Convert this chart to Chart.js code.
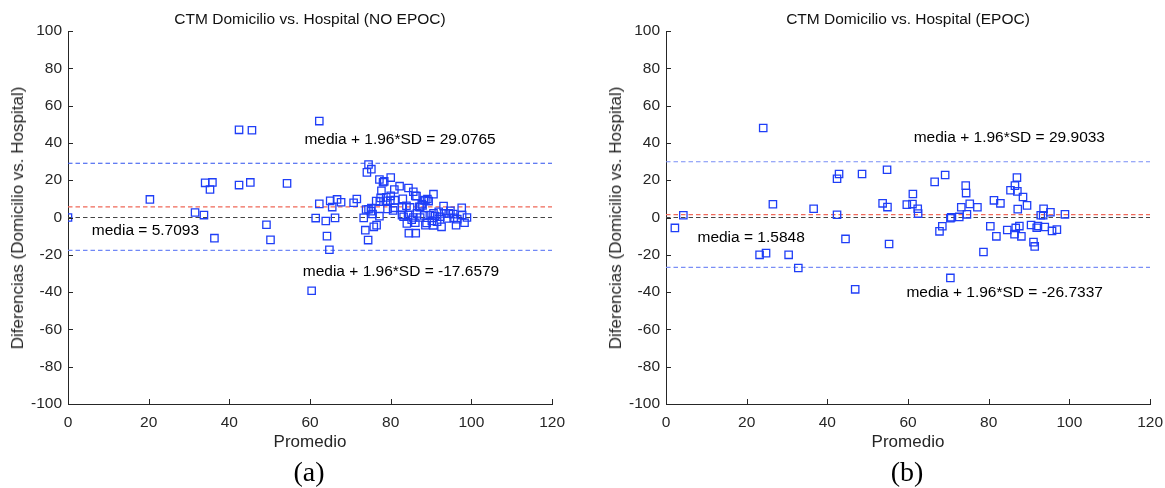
<!DOCTYPE html>
<html>
<head>
<meta charset="utf-8">
<script src="https://cdn.jsdelivr.net/npm/chart.js@4.4.1/dist/chart.umd.min.js"></script>
<style>
  body { margin: 0; background: #fff; }
  #wrap { position: relative; width: 1165px; height: 488px; background: #fff; overflow: hidden; }
  #wrap canvas { position: absolute; top: 0; }
  .lbl { position: absolute; white-space: nowrap; transform: translate(-50%, -50%); font-family: "Liberation Sans", Arial, sans-serif; color: #262626; }
  .ttl { font-size: 15.5px; color: #111; }
  .axt { font-size: 17px; }
  .ylab { transform: translate(-50%, -50%) rotate(-90deg); }
  .sub { font-family: "Liberation Serif", "Times New Roman", serif; font-size: 28px; color: #000; }
</style>
</head>
<body>
<div id="wrap">
  <canvas id="chart1" width="574" height="488" style="left:0"></canvas>
  <canvas id="chart2" width="574" height="488" style="left:598px"></canvas>

  <div class="lbl ttl" style="left:310px;top:19px">CTM Domicilio vs. Hospital (NO EPOC)</div>
  <div class="lbl axt ylab" style="left:18px;top:218px">Diferencias (Domicilio vs. Hospital)</div>
  <div class="lbl axt" style="left:310px;top:442px">Promedio</div>
  <div class="lbl sub" style="left:309px;top:472px">(a)</div>

  <div class="lbl ttl" style="left:908px;top:19px">CTM Domicilio vs. Hospital (EPOC)</div>
  <div class="lbl axt ylab" style="left:616px;top:218px">Diferencias (Domicilio vs. Hospital)</div>
  <div class="lbl axt" style="left:908px;top:442px">Promedio</div>
  <div class="lbl sub" style="left:907px;top:472px">(b)</div>
</div>

<script>
// axis ticks
const xTicks = [0, 20, 40, 60, 80, 100, 120];
const yTicks = [-100, -80, -60, -40, -20, 0, 20, 40, 60, 80, 100];

// NO EPOC: promedio / diferencia
const noEpocAvg = [
  0, 20.3, 31.5, 33.7, 34, 35.8, 35.2, 36.3, 42.4, 45.6,
  42.4, 45.2, 49.2, 50.2, 54.3, 60.4, 62.3, 62.3, 61.4, 63.9,
  64.2, 64.8, 65, 65.5, 66.7, 66.2, 67.7, 70.8, 71.6, 73.3,
  73.7, 74.4, 74.5, 75.2, 74.1, 73.9, 74.5, 75.2, 75.1, 75.5,
  75.8, 76.5, 77.2, 76.4, 77.2, 78.4, 78.1, 80, 77.7, 77.5,
  78.9, 77.3, 78.8, 80, 80.9, 82.2, 84.4, 85.6, 86.4, 90.6,
  89.1, 88.2, 87.7, 87.3, 79.9, 81, 83, 81, 82.8, 86.1,
  84.8, 87.1, 88.6, 89.4, 87.9, 83.2, 85.6, 84, 86.1, 84.5,
  86.2, 88.6, 90.6, 92.6, 89.7, 90.6, 91.9, 93.1, 93.3, 94.4,
  95.5, 96.5, 97.7, 98.9, 96.2, 98.3, 97.6, 95.6, 94, 92.3,
  91.5, 90.2, 87.3, 88.3, 86.5, 84.3, 82.8, 79.2, 80.6, 83.9,
  85.2, 88.9, 91, 94.8
];
const noEpocDiff = [
  0, 9.7, 2.7, 1.3, 18.6, 18.8, 15, -11.1, 47, 46.8,
  17.4, 18.8, -3.9, -12, 18.3, -39.3, 51.7, 7.3, -0.3, -1.9,
  -10, -17.3, 8.9, 5.6, 9.7, -0.2, 8.2, 7.9, 9.9, -0.2,
  -6.8, -12.1, 28.4, 25.9, 24.2, 4.3, 4.4, 5, 3.4, 1.9,
  -5, -4.1, 0.7, 8.8, 20.4, 19.4, 18.9, 21.4, 14.3, 10.5,
  10.8, 8.5, 9, 11.6, 15, 16.8, 15.8, 13.8, 11.5, 12.5,
  9.9, 9.1, 7.1, 5.6, 9, 9.3, 10, 5.2, 5.4, 11.6,
  5.4, 5.7, 9.3, 8.8, 6.5, 0.4, 0, -3.2, -2.8, -8.4,
  -8.4, -4.1, -4.2, -5, 1.3, 2.2, 3.1, 6.1, 2.2, 2.2,
  1.8, -0.9, 1.3, 0, -4.1, -2.8, 5.2, -0.2, -0.5, 0.4,
  -2.3, -1.8, 0, 1.1, 2.2, 1.3, 1.3, 4.6, 3.8, 6.3,
  -1.2, -2.9, 0.8, 3.6
];
const noEpocLines = [29.0765, 5.7093, 0, -17.6579];

// EPOC: promedio / diferencia
const epocAvg = [
  2.2, 4.3, 24.1, 23.2, 24.8, 26.5, 30.4, 32.8, 36.6, 42.4,
  42.9, 42.4, 44.5, 46.9, 48.6, 54.8, 53.7, 54.9, 55.3, 59.7,
  61.1, 61.2, 62.4, 62.5, 66.6, 69.2, 67.8, 68.5, 70.7, 70.5,
  70.5, 72.7, 73.2, 74.3, 74.4, 74.6, 75.3, 77.2, 78.7, 80.4,
  81.3, 82.9, 81.9, 84.6, 85.4, 86.5, 87, 87.1, 86.7, 86.4,
  87.6, 88.1, 87.2, 88.5, 89.5, 90.5, 91.1, 91.4, 91.9, 92.2,
  92.9, 93.6, 93.5, 93.9, 95.3, 95.7, 96.9, 98.9
];
const epocDiff = [
  -5.6, 1.2, 48, -20, -19.1, 7.1, -20, -27.1, 4.7, 20.8,
  23.3, 1.5, -11.5, -38.5, 23.3, 25.6, 7.6, 5.6, -14.2, 6.9,
  7.2, 12.6, 4.7, 2.1, 19.1, 22.8, -7.4, -4.7, 0.1, -0.4,
  -32.4, 0.3, 5.5, 17.1, 13.1, 1.7, 7.3, 5.5, -18.5, -4.7,
  9.2, 7.6, -10.1, -6.7, 14.6, 17.1, 21.4, 14, -5.6, -8.9,
  -4.6, -10.1, 4.5, 11, 6.5, -4, -13.2, -15.5, -5.5, -4.6,
  1.2, 4.7, 1.2, -5.1, 2.8, -7.2, -6.5, 1.7
];
const epocLines = [29.9033, 1.5848, 0, -26.7337];

const noEpocNotes = [
  'media + 1.96*SD = ' + noEpocLines[0],
  'media = ' + noEpocLines[1],
  'media + 1.96*SD = ' + noEpocLines[3]
];
const epocNotes = [
  'media + 1.96*SD = ' + epocLines[0],
  'media = ' + epocLines[1],
  'media + 1.96*SD = ' + epocLines[3]
];

const FONT = '"Liberation Sans", Arial, sans-serif';
const AXIS = '#262626';

// matlab style ticks pointing inwards + text labels inside the plot
const innerTicks = {
  id: 'innerTicks',
  afterDraw(chart) {
    const c = chart.ctx;
    const xs = chart.scales.x, ys = chart.scales.y;
    const area = chart.chartArea;
    c.save();
    c.strokeStyle = AXIS;
    c.lineWidth = 1;
    c.beginPath();
    xTicks.forEach(v => {
      const px = Math.round(xs.getPixelForValue(v)) + 0.5;
      c.moveTo(px, area.bottom);
      c.lineTo(px, area.bottom - 5);
    });
    yTicks.forEach(v => {
      const py = Math.round(ys.getPixelForValue(v)) + 0.5;
      c.moveTo(area.left, py);
      c.lineTo(area.left + 5, py);
    });
    c.stroke();

    const notes = chart.options.plugins.innerTicks.notes || [];
    c.fillStyle = '#000';
    c.font = '15.5px ' + FONT;
    c.textAlign = 'left';
    c.textBaseline = 'middle';
    notes.forEach(n => {
      c.fillText(n.text, xs.getPixelForValue(n.x), ys.getPixelForValue(n.y));
    });
    c.restore();
  }
};

function lineSet(value, color) {
  return {
    type: 'line',
    data: [{x: 0, y: value}, {x: 120, y: value}],
    borderColor: color,
    borderWidth: 1.2,
    borderDash: [4.5, 3],
    pointRadius: 0,
    fill: false,
    order: 2
  };
}

function makeChart(canvas, avg, diff, lines, lineColors, notes) {
  const pts = avg.map((v, i) => ({x: v, y: diff[i]}));
  return new Chart(canvas, {
    type: 'scatter',
    data: {
      datasets: [
        {
          data: pts,
          pointStyle: 'rect',
          pointRadius: 5.2,
          borderColor: '#1f3ef7',
          borderWidth: 1.3,
          backgroundColor: 'rgba(0,0,0,0)',
          order: 1
        },
        ...lines.map((v, i) => lineSet(v, lineColors[i]))
      ]
    },
    options: {
      responsive: false,
      animation: false,
      devicePixelRatio: 1,
      layout: { padding: { top: 31, right: 0, left: 0, bottom: 0 } },
      plugins: {
        legend: { display: false },
        tooltip: { enabled: false },
        innerTicks: { notes: notes }
      },
      scales: {
        x: {
          type: 'linear',
          min: 0,
          max: 120,
          afterFit: s => { s.height = 84; },
          afterBuildTicks: s => { s.ticks = xTicks.map(v => ({value: v})); },
          grid: { display: false, drawTicks: false },
          border: { display: true, color: AXIS, width: 1 },
          ticks: { color: AXIS, padding: 9, font: { family: FONT, size: 15.5 } }
        },
        y: {
          min: -100,
          max: 100,
          afterFit: s => { s.width = 68; },
          afterBuildTicks: s => { s.ticks = yTicks.map(v => ({value: v})); },
          grid: { display: false, drawTicks: false },
          border: { display: true, color: AXIS, width: 1 },
          ticks: { color: AXIS, padding: 6, font: { family: FONT, size: 15.5 } }
        }
      }
    },
    plugins: [innerTicks]
  });
}

const ctx = document.getElementById('chart1');
const myChart = makeChart(ctx, noEpocAvg, noEpocDiff, noEpocLines,
  ['#2f52ee', '#f06858', '#444444', '#7088f6'],
  [
    {text: noEpocNotes[0], x: 58.6, y: 41.9},
    {text: noEpocNotes[1], x: 5.9, y: -7.1},
    {text: noEpocNotes[2], x: 58.2, y: -29.3}
  ]);

const ctx2 = document.getElementById('chart2');
const myChart2 = makeChart(ctx2, epocAvg, epocDiff, epocLines,
  ['#7a8ef6', '#f06a5c', '#444444', '#7a8ef6'],
  [
    {text: epocNotes[0], x: 61.4, y: 42.7},
    {text: epocNotes[1], x: 7.8, y: -10.9},
    {text: epocNotes[2], x: 59.6, y: -40.4}
  ]);
</script>
</body>
</html>
